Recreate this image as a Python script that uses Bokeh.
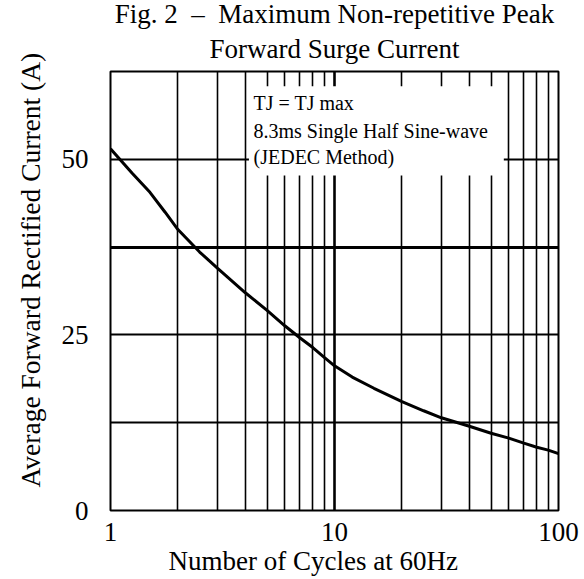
from bokeh.plotting import figure
from bokeh.models import FixedTicker, Grid, Title, Range1d, PrintfTickFormatter
from bokeh.core.properties import value
from bokeh.embed import file_html
from bokeh.resources import INLINE

cycles = [1, 1.25, 1.5, 1.75, 2, 2.5, 3, 4, 5, 6, 7, 8, 9, 10, 12, 15, 20,
          25, 30, 40, 50, 60, 70, 80, 90, 100]
current = [51.5, 48.0, 45.3, 42.5, 40.0, 36.8, 34.5, 31.0, 28.5, 26.3, 24.6,
           23.2, 21.8, 20.6, 19.0, 17.4, 15.5, 14.2, 13.2, 12.0, 11.0, 10.3,
           9.6, 9.0, 8.6, 8.1]

x_ticks = [1, 10, 100]
y_ticks = [0, 25, 50]
x_grid_minor = [2, 3, 4, 5, 6, 7, 8, 9, 20, 30, 40, 50, 60, 70, 80, 90]
x_grid_major = [10]
y_grid = [12.5, 25, 50]
y_grid_heavy = [37.5]

title_line1 = "Fig. 2\u00a0\u00a0\u2013\u00a0\u00a0Maximum Non-repetitive Peak"
title_line2 = "Forward Surge Current"
x_label = "Number of Cycles at 60Hz"
y_label = "Average Forward Rectified Current (A)"
note_lines = ["TJ = TJ max", "8.3ms Single Half Sine-wave", "(JEDEC Method)"]
note_y = [58.0, 54.1, 50.3]
note_box = dict(left=4.15, right=57, top=60.4, bottom=47.7)

FONT = "Liberation Serif"
FS = "27px"

p = figure(width=584, height=579, x_axis_type="log",
           x_range=Range1d(1, 100), y_range=Range1d(0, 62.5),
           output_backend="svg", toolbar_location=None,
           min_border_left=107, min_border_right=26,
           min_border_top=71, min_border_bottom=69)
p.background_fill_color = "white"
p.border_fill_color = "white"
p.outline_line_color = "black"
p.outline_line_width = 2
p.outline_line_alpha = 1

# second title line first: it sits nearest the frame
p.add_layout(Title(text=title_line2, align="center", text_font=FONT,
                   text_font_size=FS, text_font_style="normal",
                   text_color="black", standoff=16), "above")
p.add_layout(Title(text=title_line1, align="center", text_font=FONT,
                   text_font_size=FS, text_font_style="normal",
                   text_color="black", standoff=-10), "above")

for ax in (p.xaxis[0], p.yaxis[0]):
    ax.axis_line_color = None
    ax.major_tick_line_color = None
    ax.minor_tick_line_color = None
    ax.major_label_text_font = FONT
    ax.major_label_text_font_size = FS
    ax.major_label_text_color = "black"
p.xaxis[0].ticker = FixedTicker(ticks=x_ticks)
p.xaxis[0].formatter = PrintfTickFormatter(format="%d")
p.yaxis[0].ticker = FixedTicker(ticks=y_ticks)
p.xaxis[0].major_label_standoff = 6
p.yaxis[0].major_label_standoff = 16

p.add_layout(Title(text=x_label, align="left", offset=58, text_font=FONT,
                   text_font_size=FS, text_font_style="normal",
                   text_color="black", standoff=0), "below")
p.add_layout(Title(text=y_label, align="left", offset=23, text_font=FONT,
                   text_font_size="27.5px", text_font_style="normal",
                   text_color="black", standoff=25), "left")

p.xgrid.ticker = FixedTicker(ticks=x_grid_minor)
p.xgrid.grid_line_color = "black"
p.xgrid.grid_line_width = 1.6
p.ygrid.ticker = FixedTicker(ticks=y_grid)
p.ygrid.grid_line_color = "black"
p.ygrid.grid_line_width = 2
p.add_layout(Grid(dimension=0, ticker=FixedTicker(ticks=x_grid_major),
                  grid_line_color="black", grid_line_width=2.6))
p.add_layout(Grid(dimension=1, ticker=FixedTicker(ticks=y_grid_heavy),
                  grid_line_color="black", grid_line_width=3.2))

p.quad(left=[note_box["left"]], right=[note_box["right"]],
       top=[note_box["top"]], bottom=[note_box["bottom"]],
       fill_color="white", line_color=None)
p.text(x=[4.35] * 3, y=note_y, text=note_lines, text_font=value(FONT),
       text_font_size="20px", text_color="black", text_baseline="middle",
       text_align="left")

p.line(cycles, current, line_color="black", line_width=3)

open("out.html", "w").write(file_html(p, INLINE))
